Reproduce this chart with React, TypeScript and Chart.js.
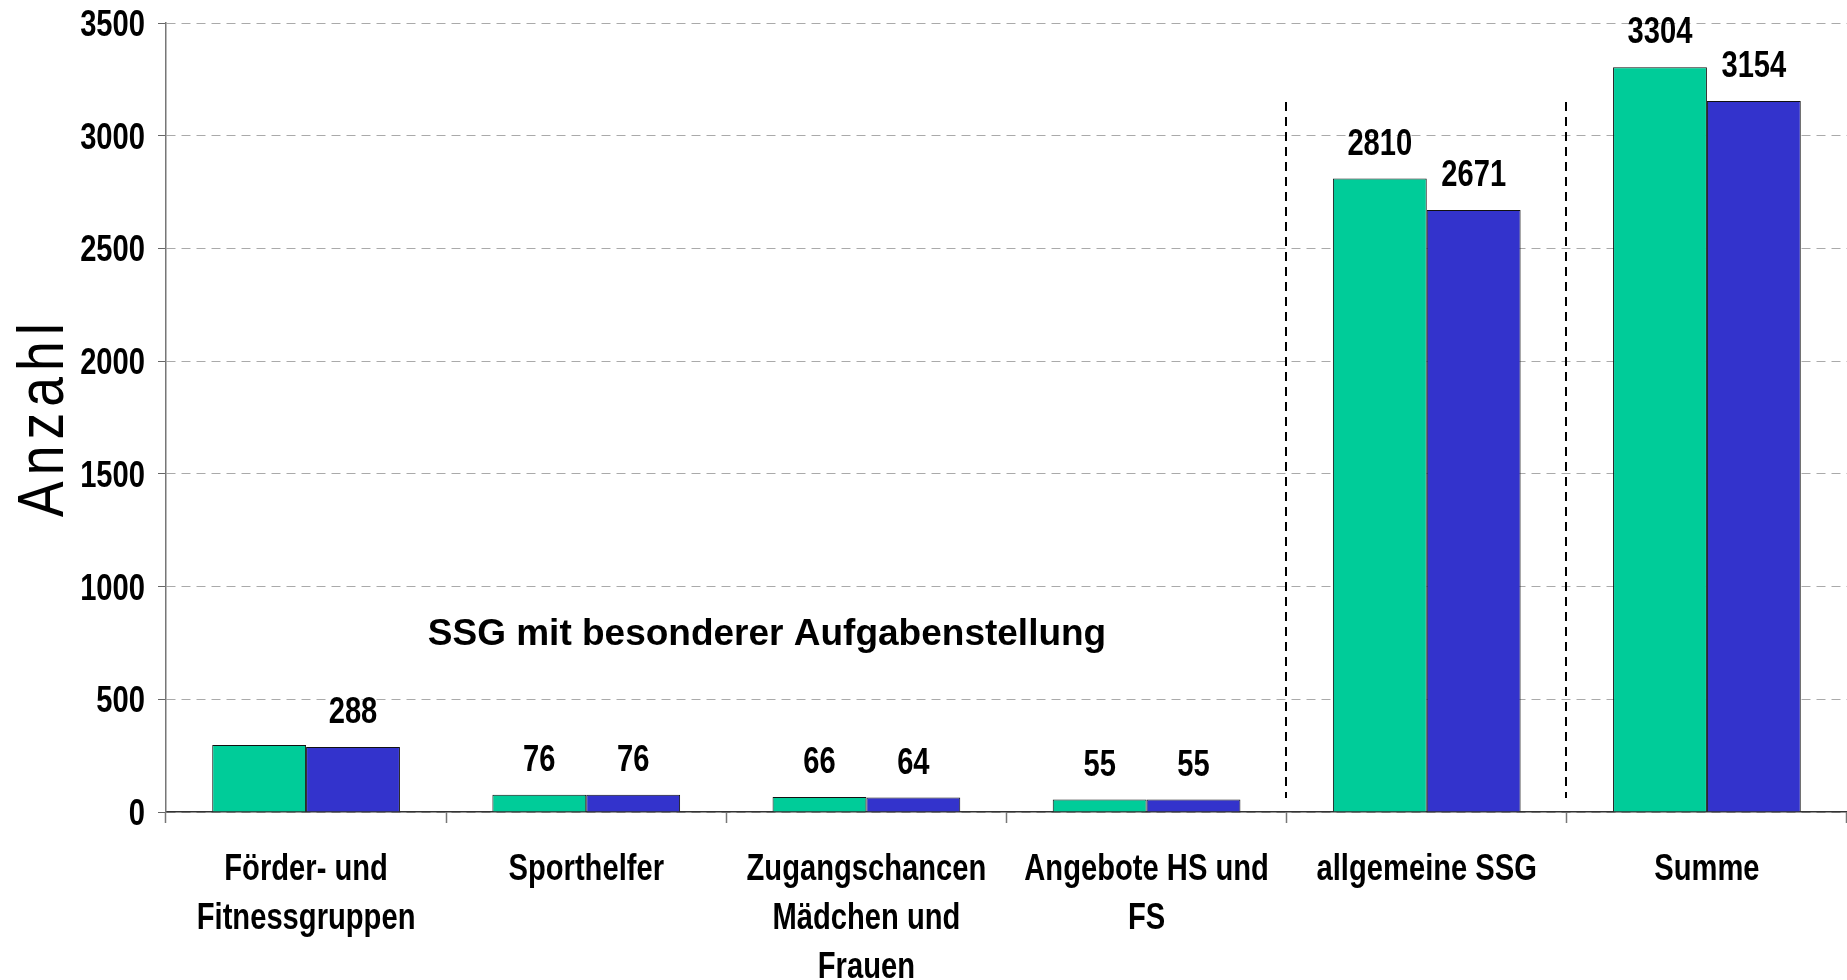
import React, { useEffect, useRef } from "react";
import { Chart, registerables } from "chart.js";

Chart.register(...registerables);

const categories: string[][] = [
  ["Förder- und", "Fitnessgruppen"],
  ["Sporthelfer"],
  ["Zugangschancen", "Mädchen und", "Frauen"],
  ["Angebote HS und", "FS"],
  ["allgemeine SSG"],
  ["Summe"],
];
const seriesGreen: number[] = [297, 76, 66, 55, 2810, 3304];
const seriesBlue: number[] = [288, 76, 64, 55, 2671, 3154];
// which value labels are visible (the first green bar has no label in the reference)
const showGreenLabel: boolean[] = [false, true, true, true, true, true];
const showBlueLabel: boolean[] = [true, true, true, true, true, true];
const yTicks: number[] = [0, 500, 1000, 1500, 2000, 2500, 3000, 3500];
const yAxisTitle = "Anzahl";
const groupTitle = "SSG mit besonderer Aufgabenstellung";
// separators drawn at the boundaries before these category indices
const separatorBefore: number[] = [4, 5];
const separatorTopValue = 3150;

const BASE = '"Liberation Sans", Arial, sans-serif';
const NARROW_SCALE = 0.81;

const W = 1847;
const H = 980;

function narrowText(
  ctx: CanvasRenderingContext2D,
  text: string,
  x: number,
  y: number,
  align: CanvasTextAlign,
  font: string
) {
  ctx.save();
  ctx.translate(x, y);
  ctx.scale(NARROW_SCALE, 1);
  ctx.font = font;
  ctx.textAlign = align;
  ctx.textBaseline = "alphabetic";
  ctx.fillText(text, 0, 0);
  ctx.restore();
}

const overlayPlugin = {
  id: "overlay",
  afterDatasetsDraw(chart: any) {
    const ctx: CanvasRenderingContext2D = chart.ctx;
    const x = chart.scales.x;
    const y = chart.scales.y;
    const area = chart.chartArea;
    ctx.save();
    // separators
    ctx.strokeStyle = "#000";
    ctx.lineWidth = 2;
    ctx.setLineDash([9, 6]);
    separatorBefore.forEach((idx) => {
      const px = Math.round((x.getPixelForValue(idx - 1) + x.getPixelForValue(idx)) / 2) - 1;
      ctx.beginPath();
      ctx.moveTo(px, y.getPixelForValue(separatorTopValue));
      ctx.lineTo(px, area.bottom - 14);
      ctx.stroke();
    });
    ctx.setLineDash([]);
    ctx.fillStyle = "#000";
    const boldFont = `bold 36px ${BASE}`;
    // value labels
    const shows = [showGreenLabel, showBlueLabel];
    chart.data.datasets.forEach((ds: any, di: number) => {
      const meta = chart.getDatasetMeta(di);
      meta.data.forEach((bar: any, i: number) => {
        if (!shows[di][i]) return;
        narrowText(ctx, String(ds.data[i]), bar.x, bar.y - 24, "center", boldFont);
      });
    });
    // y tick labels
    y.ticks.forEach((t: any, i: number) => {
      const py = y.getPixelForTick(i);
      narrowText(ctx, String(t.value), 145, py + 13, "right", boldFont);
    });
    // x tick labels
    (chart.data.labels as string[][]).forEach((lines, i) => {
      const px = x.getPixelForTick(i);
      lines.forEach((ln, k) => {
        narrowText(ctx, ln, px, 880 + k * 49, "center", boldFont);
      });
    });
    // group title
    ctx.font = `bold 37px ${BASE}`;
    ctx.textAlign = "center";
    ctx.textBaseline = "middle";
    ctx.fillText(groupTitle, 767, 635);
    // y axis title
    ctx.save();
    ctx.translate(63, 517);
    ctx.rotate(-Math.PI / 2);
    ctx.scale(0.82, 1);
    ctx.font = `normal 65px ${BASE}`;
    try {
      (ctx as any).letterSpacing = "7.5px";
    } catch (e) {}
    ctx.textAlign = "left";
    ctx.textBaseline = "alphabetic";
    ctx.fillText(yAxisTitle, 0, 0);
    ctx.restore();
    ctx.restore();
  },
};

export default function App() {
  const ref = useRef<HTMLCanvasElement | null>(null);
  useEffect(() => {
    if (!ref.current) return;
    const chart = new Chart(ref.current, {
      type: "bar",
      data: {
        labels: categories as any,
        datasets: [
          {
            data: seriesGreen,
            backgroundColor: "#00CC99",
            borderColor: "#111",
            borderWidth: 1,
            categoryPercentage: 0.67,
            barPercentage: 1.0,
          },
          {
            data: seriesBlue,
            backgroundColor: "#3333CC",
            borderColor: "#111",
            borderWidth: 1,
            categoryPercentage: 0.67,
            barPercentage: 1.0,
          },
        ],
      },
      options: {
        responsive: false,
        animation: false,
        layout: { padding: { top: 23, right: -4, bottom: 0, left: 0 } },
        plugins: {
          legend: { display: false },
          tooltip: { enabled: false },
          title: { display: false },
        },
        scales: {
          x: {
            offset: true,
            grid: {
              display: true,
              drawOnChartArea: false,
              drawTicks: true,
              tickLength: 11,
              tickColor: "#777",
              tickWidth: 1.5,
              offset: true,
            },
            border: { display: true, color: "#333", width: 1.5 },
            ticks: { display: false, autoSkip: false },
            afterFit: (s: any) => {
              s.height = H - 812;
              s.paddingLeft = 0;
              s.paddingRight = 0;
            },
          },
          y: {
            min: 0,
            max: 3500,
            afterBuildTicks: (s: any) => {
              s.ticks = yTicks.map((v) => ({ value: v }));
            },
            grid: {
              color: "#aaaaaa",
              lineWidth: 1,
              tickLength: 8,
              tickColor: "#666",
              tickBorderDash: [],
            },
            border: { display: true, color: "#777", width: 1.5, dash: [9, 6] },
            ticks: { display: false },
            afterFit: (s: any) => {
              s.width = 166;
              s.paddingTop = 0;
              s.paddingBottom = 0;
            },
          },
        },
      },
      plugins: [overlayPlugin],
    } as any);
    return () => chart.destroy();
  }, []);
  return (
    <div style={{ position: "fixed", left: 0, top: 0, width: W, height: H, background: "#fff", overflow: "hidden" }}>
      <canvas ref={ref} width={W} height={H} style={{ display: "block", width: W, height: H }} />
    </div>
  );
}
